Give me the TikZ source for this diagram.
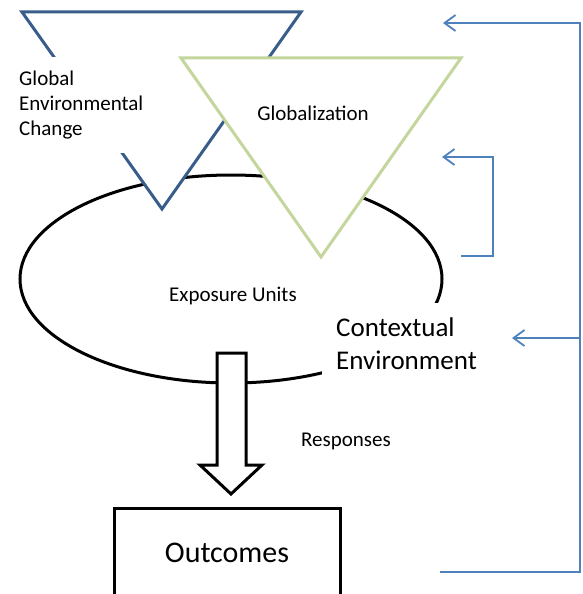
\documentclass[tikz,border=0pt]{standalone}
\usepackage{fontspec}
\setmainfont{Carlito}
\usetikzlibrary{arrows.meta}
\definecolor{gecblue}{RGB}{56,93,138}
\definecolor{glbgreen}{RGB}{195,214,155}
\definecolor{fbblue}{RGB}{79,129,189}

\begin{document}
\begin{tikzpicture}
 [x=1pt,y=-1pt,
  gec/.style={draw=gecblue,line width=3pt,fill=white},
  glb/.style={draw=glbgreen,line width=3pt,fill=white},
  txt/.style={font=\fontsize{21}{25}\selectfont},
  fb/.style={draw=fbblue,line width=1.8pt},
  barb/.style={fb,{Straight Barb[length=11pt,width=16pt]}-}]
  \useasboundingbox (0,0) rectangle (582,594);
  \clip (0,0) rectangle (582,594);
  \draw[line width=3pt] (231,279) ellipse [x radius=211pt,y radius=104pt];
  \draw[gec] (22,12) -- (301,12) -- (162,209) -- cycle;
  \node[txt,fill=white,align=left,anchor=north west,inner xsep=6pt,inner ysep=14pt] (change) at (13,57) {Global\\Environmental\\Change};
  \draw[glb] (181,58) -- (461,58) -- (321,257) -- cycle;
  \node[txt,anchor=base] (globalization) at (313,120) {Globalization};
  \node[txt,anchor=base] (units) at (233,301) {Exposure Units};
  \node[font=\fontsize{27}{33}\selectfont,fill=white,align=left,anchor=north west,inner xsep=14pt,inner ysep=15pt] (context) at (322,303) {Contextual\\Environment};
  \draw[line width=3pt,fill=white] (217,353) -- (246,353) -- (246,465) -- (262,465) -- (231,494) -- (200,465) -- (217,465) -- cycle;
  \node[txt,anchor=base] (responses) at (346,446) {Responses};
  \node[draw,line width=3pt,minimum width=226pt,minimum height=90pt,font=\fontsize{30}{36}\selectfont] (outcomes) at (227,553) {Outcomes};
  % feedback loops
  \coordinate (t1) at (443,23);
  \coordinate (r1) at (580,23);
  \coordinate (r3) at (580,572);
  \coordinate (b3) at (440,572);
  \coordinate (t2) at (512,338);
  \coordinate (r2) at (580,338);
  \coordinate (t3) at (442,157);
  \coordinate (s3) at (493,157);
  \coordinate (s2) at (493,256);
  \coordinate (s1) at (461,256);
  \draw[barb] (t1) -- (r1) -- (r3) -- (b3);
  \draw[barb] (t2) -- (r2);
  \draw[barb] (t3) -- (s3) -- (s2) -- (s1);
\end{tikzpicture}
\end{document}
